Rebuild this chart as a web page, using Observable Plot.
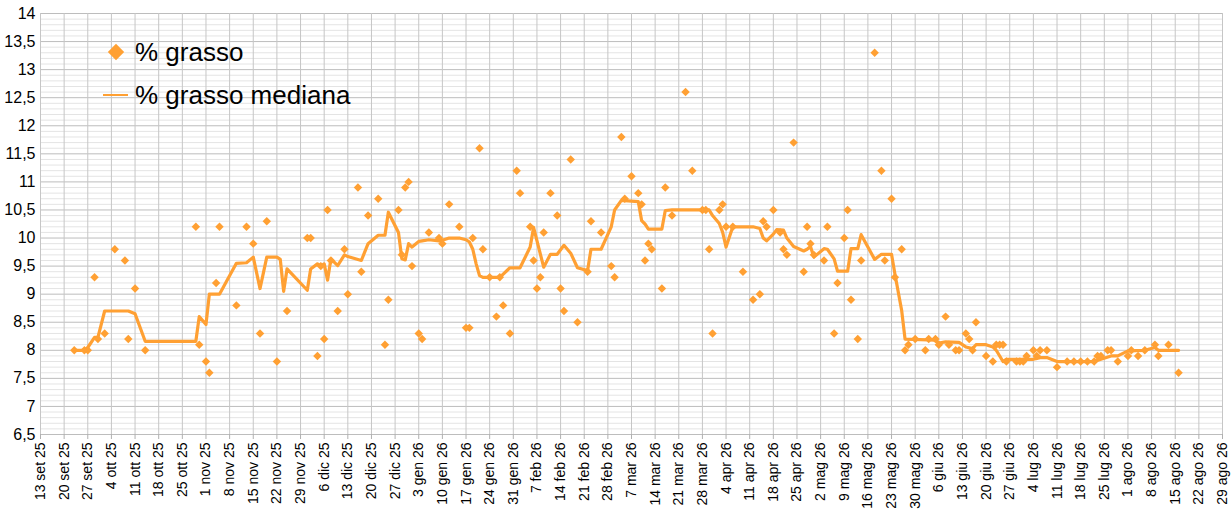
<!DOCTYPE html>
<html><head><meta charset="utf-8">
<script src="https://cdn.jsdelivr.net/npm/d3@7"></script>
<script src="https://cdn.jsdelivr.net/npm/@observablehq/plot@0.6"></script>
<style>
body{margin:0;background:#fff;font-family:"Liberation Sans",Arial,sans-serif}
#wrap{position:relative;width:1232px;height:513px}
#legend{position:absolute;left:0;top:0;pointer-events:none}
</style></head><body>
<div id="wrap"><div id="chart"></div><svg id="legend" width="400" height="120"></svg></div>
<script>
const monthNames = ["gen","feb","mar","apr","mag","giu","lug","ago","set","ott","nov","dic"];
const yTicks = [6.5,7,7.5,8,8.5,9,9.5,10,10.5,11,11.5,12,12.5,13,13.5,14];
const xStart = "2025-09-13", xEnd = "2026-08-29";
const seriesNames = ["% grasso", "% grasso mediana"];

const pointDates = [
"2025-09-23","2025-09-26","2025-09-27","2025-09-29","2025-09-30","2025-10-02","2025-10-05","2025-10-08","2025-10-09","2025-10-11",
"2025-10-14","2025-10-29","2025-10-30","2025-11-01","2025-11-02","2025-11-04","2025-11-05","2025-11-10","2025-11-13","2025-11-15",
"2025-11-17","2025-11-19","2025-11-22","2025-11-25","2025-12-01","2025-12-02","2025-12-04","2025-12-05","2025-12-06","2025-12-07",
"2025-12-08","2025-12-10","2025-12-12","2025-12-13","2025-12-16","2025-12-17","2025-12-19","2025-12-22","2025-12-24","2025-12-25",
"2025-12-28","2025-12-29","2025-12-30","2025-12-31","2026-01-01","2026-01-03","2026-01-04","2026-01-06","2026-01-09","2026-01-10",
"2026-01-12","2026-01-15","2026-01-17","2026-01-18","2026-01-19","2026-01-21","2026-01-22","2026-01-24","2026-01-26","2026-01-27",
"2026-01-28","2026-01-30","2026-02-01","2026-02-02","2026-02-05","2026-02-06","2026-02-07","2026-02-08","2026-02-09","2026-02-11",
"2026-02-13","2026-02-14","2026-02-15","2026-02-17","2026-02-19","2026-02-22","2026-02-23","2026-02-26","2026-03-01","2026-03-02",
"2026-03-04","2026-03-05","2026-03-07","2026-03-09","2026-03-10","2026-03-11","2026-03-12","2026-03-13","2026-03-16","2026-03-17",
"2026-03-19","2026-03-23","2026-03-25","2026-03-28","2026-03-29","2026-03-30","2026-03-31","2026-04-02","2026-04-03","2026-04-04",
"2026-04-06","2026-04-09","2026-04-12","2026-04-14","2026-04-15","2026-04-16","2026-04-18","2026-04-20","2026-04-21","2026-04-22",
"2026-04-24","2026-04-27","2026-04-28","2026-04-29","2026-04-30","2026-05-03","2026-05-04","2026-05-06","2026-05-07","2026-05-09",
"2026-05-10","2026-05-11","2026-05-13","2026-05-14","2026-05-18","2026-05-20","2026-05-21","2026-05-23","2026-05-24","2026-05-26",
"2026-05-27","2026-05-28","2026-05-30","2026-06-02","2026-06-03","2026-06-05","2026-06-06","2026-06-08","2026-06-09","2026-06-11",
"2026-06-12","2026-06-14","2026-06-15","2026-06-16","2026-06-17","2026-06-20","2026-06-22","2026-06-23","2026-06-24","2026-06-25",
"2026-06-26","2026-06-29","2026-06-30","2026-07-01","2026-07-02","2026-07-04","2026-07-05","2026-07-06","2026-07-08","2026-07-11",
"2026-07-14","2026-07-16","2026-07-18","2026-07-20","2026-07-22","2026-07-23","2026-07-24","2026-07-26","2026-07-27","2026-07-29",
"2026-08-01","2026-08-02","2026-08-04","2026-08-06","2026-08-09","2026-08-10","2026-08-13","2026-08-16"];
const pointValues = [
8.0,8.0,8.0,9.3,8.2,8.3,9.8,9.6,8.2,9.1,
8.0,10.2,8.1,7.8,7.6,9.2,10.2,8.8,10.2,9.9,
8.3,10.3,7.8,8.7,10.0,10.0,7.9,9.5,8.2,10.5,
9.6,8.7,9.8,9.0,10.9,9.4,10.4,10.7,8.1,8.9,
10.5,9.7,10.9,11.0,9.5,8.3,8.2,10.1,10.0,9.9,
10.6,10.2,8.4,8.4,10.0,11.6,9.8,9.3,8.6,9.3,
8.8,8.3,11.2,10.8,10.2,9.6,9.1,9.3,10.1,10.8,
10.4,9.1,8.7,11.4,8.5,9.4,10.3,10.1,9.5,9.3,
11.8,10.7,11.1,10.8,10.6,9.6,9.9,9.8,9.1,10.9,
10.4,12.6,11.2,10.5,10.5,9.8,8.3,10.5,10.6,10.2,
10.2,9.4,8.9,9.0,10.3,10.2,10.5,10.1,9.8,9.7,
11.7,9.4,10.2,9.9,9.7,9.6,10.2,8.3,9.2,10.0,
10.5,8.9,8.2,9.6,13.3,11.2,9.6,10.7,9.3,9.8,
8.0,8.1,8.2,8.0,8.2,8.2,8.1,8.6,8.1,8.0,
8.0,8.3,8.2,8.0,8.5,7.9,7.8,8.1,8.1,8.1,
7.8,7.8,7.8,7.8,7.9,8.0,7.9,8.0,8.0,7.7,
7.8,7.8,7.8,7.8,7.8,7.9,7.9,8.0,8.0,7.8,
7.9,8.0,7.9,8.0,8.1,7.9,8.1,7.6];

const medianDates = [
"2025-09-23","2025-09-26","2025-09-27","2025-09-29","2025-09-30","2025-10-02","2025-10-09","2025-10-11","2025-10-14","2025-10-29",
"2025-10-30","2025-11-01","2025-11-02","2025-11-05","2025-11-10","2025-11-13","2025-11-15","2025-11-17","2025-11-19","2025-11-22",
"2025-11-23","2025-11-24","2025-11-25","2025-12-01","2025-12-02","2025-12-04","2025-12-05","2025-12-06","2025-12-07","2025-12-08",
"2025-12-10","2025-12-12","2025-12-13","2025-12-17","2025-12-19","2025-12-22","2025-12-24","2025-12-25","2025-12-28","2025-12-29",
"2025-12-30","2025-12-31","2026-01-01","2026-01-03","2026-01-04","2026-01-06","2026-01-09","2026-01-10","2026-01-12","2026-01-15",
"2026-01-17","2026-01-18","2026-01-19","2026-01-20","2026-01-21","2026-01-22","2026-01-27","2026-01-30","2026-02-02","2026-02-05",
"2026-02-06","2026-02-09","2026-02-11","2026-02-13","2026-02-15","2026-02-17","2026-02-19","2026-02-22","2026-02-23","2026-02-26",
"2026-03-01","2026-03-02","2026-03-04","2026-03-09","2026-03-10","2026-03-11","2026-03-12","2026-03-16","2026-03-17","2026-03-19",
"2026-03-30","2026-03-31","2026-04-02","2026-04-03","2026-04-04","2026-04-06","2026-04-12","2026-04-14","2026-04-15","2026-04-16",
"2026-04-18","2026-04-19","2026-04-21","2026-04-22","2026-04-24","2026-04-27","2026-04-28","2026-04-29","2026-04-30","2026-05-03",
"2026-05-04","2026-05-06","2026-05-07","2026-05-10","2026-05-11","2026-05-13","2026-05-14","2026-05-18","2026-05-20","2026-05-23",
"2026-05-24","2026-05-26","2026-05-27","2026-06-05","2026-06-06","2026-06-08","2026-06-12","2026-06-14","2026-06-16","2026-06-17",
"2026-06-20","2026-06-22","2026-06-23","2026-06-25","2026-06-26","2026-07-04","2026-07-06","2026-07-08","2026-07-11","2026-07-22",
"2026-07-24","2026-07-27","2026-07-29","2026-08-01","2026-08-06","2026-08-09","2026-08-10","2026-08-16"];
const medianValues = [
8.0,8.0,8.05,8.23,8.23,8.7,8.7,8.65,8.16,8.16,
8.6,8.46,9.0,9.0,9.55,9.56,9.66,9.1,9.66,9.66,
9.62,9.05,9.45,9.07,9.45,9.54,9.5,9.54,9.25,9.63,
9.51,9.7,9.67,9.6,9.9,10.05,10.05,10.46,10.1,9.63,
9.61,9.9,9.84,9.94,9.95,9.97,9.95,9.96,10.0,10.0,
9.97,9.93,9.8,9.54,9.33,9.3,9.3,9.47,9.47,9.84,
10.19,9.48,9.71,9.71,9.87,9.73,9.47,9.42,9.8,9.8,
10.2,10.5,10.67,10.65,10.31,10.25,10.16,10.16,10.49,10.5,
10.5,10.4,10.26,10.1,9.84,10.2,10.2,10.17,10.0,9.95,
10.07,10.15,10.14,10.0,9.85,9.77,9.8,9.85,9.66,9.81,
9.8,9.63,9.41,9.41,9.81,9.81,10.06,9.62,9.71,9.71,
9.36,8.71,8.2,8.18,8.13,8.15,8.14,8.06,8.03,8.1,
8.1,8.06,8.0,7.8,7.84,7.84,7.87,7.87,7.8,7.8,
7.84,7.9,7.9,7.99,8.0,8.05,8.0,8.0];

const color = "#ffa033";
const parse = d3.utcParse("%Y-%m-%d");
const points = pointDates.map((d, i) => ({date: parse(d), value: pointValues[i]}));
const median = medianDates.map((d, i) => ({date: parse(d), value: medianValues[i]}));
const weekTicks = d3.utcDay.range(parse(xStart), d3.utcDay.offset(parse(xEnd), 1), 7);
const minorY = d3.range(65, 141).filter(v => v % 5 !== 0).map(v => v / 10);
const fmtDate = d => `${d.getUTCDate()} ${monthNames[d.getUTCMonth()]} ${String(d.getUTCFullYear()).slice(2)}`;
const fmtNum = d => String(d).replace(".", ",");

const chart = Plot.plot({
  width: 1232, height: 513,
  marginLeft: 40, marginRight: 10, marginTop: 13, marginBottom: 79,
  x: {type: "utc", domain: [parse(xStart), parse(xEnd)], label: null},
  y: {domain: [6.5, 14], label: null},
  style: {fontFamily: "'Liberation Sans', Arial, sans-serif", background: "#fff", color: "#000"},
  marks: [
    Plot.ruleY(minorY, {stroke: "#e4e4e4", strokeWidth: 1}),
    Plot.ruleY(yTicks, {stroke: "#bdbdbd", strokeWidth: 1}),
    Plot.ruleX(weekTicks, {stroke: "#c6c6c6", strokeWidth: 1}),
    Plot.axisY({ticks: yTicks, tickFormat: fmtNum, tickSize: 0, tickPadding: 5, fontSize: 16, fill: "#000", label: null}),
    Plot.axisX({ticks: weekTicks, tickFormat: fmtDate, tickRotate: -90, tickSize: 5, tickPadding: 3, fontSize: 14, stroke: "#b0b0b0", fill: "#000", label: null}),
    Plot.line(median, {x: "date", y: "value", stroke: color, strokeWidth: 3.2, strokeLinejoin: "round"}),
    Plot.dot(points, {x: "date", y: "value", symbol: "diamond2", r: 3.8, fill: color, stroke: null})
  ]
});
document.getElementById("chart").appendChild(chart);

// legend
const lg = d3.select("#legend");
lg.append("path").attr("d", d3.symbol(d3.symbolDiamond2, 170)()).attr("transform", "translate(116,52)").attr("fill", color);
lg.append("line").attr("x1", 103).attr("x2", 128).attr("y1", 95).attr("y2", 95).attr("stroke", color).attr("stroke-width", 2);
lg.append("text").attr("x", 135).attr("y", 61).attr("font-size", 26).attr("font-family", "'Liberation Sans', Arial, sans-serif").text(seriesNames[0]);
lg.append("text").attr("x", 135).attr("y", 104).attr("font-size", 26).attr("font-family", "'Liberation Sans', Arial, sans-serif").text(seriesNames[1]);
</script>
</body></html>
